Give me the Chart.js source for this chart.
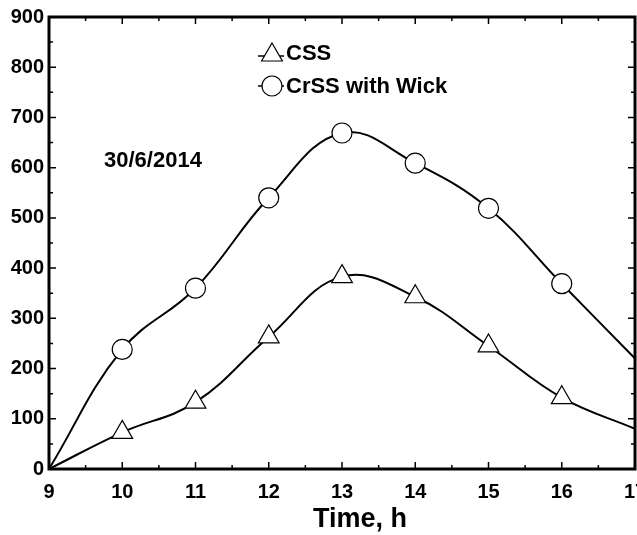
<!DOCTYPE html>
<html><head><meta charset="utf-8">
<script src="https://cdn.jsdelivr.net/npm/chart.js@4.4.1/dist/chart.umd.min.js"></script>
<style>html,body{margin:0;padding:0;background:#fff;} #wrap{width:637px;height:535px;}</style>
</head><body><div id="wrap"><canvas id="c" width="637" height="535"></canvas></div>
<script>
const hours = [9, 10, 11, 12, 13, 14, 15, 16, 17];
const cssValues = [0, 73, 133, 263, 383, 343, 245, 142, 80];
const crssValues = [0, 238, 360, 540, 669, 609, 519, 369, 220];
const seriesNames = ['CSS', 'CrSS with Wick'];
const dateLabel = '30/6/2014';
const xTitle = 'Time, h';
const xRange = [9, 17];
const yRange = [0, 900];

const FONT = "'Liberation Sans', Arial, sans-serif";

function pts(vals) { return hours.map((h, i) => ({ x: h, y: vals[i] })); }
function radii(vals, r) { return vals.map((v, i) => (i === 0 || i === vals.length - 1) ? 0 : r); }

const framePlugin = {
  id: 'frame',
  afterDraw(chart) {
    const ctx = chart.ctx, a = chart.chartArea;
    const xs = chart.scales.x, ys = chart.scales.y;
    ctx.save();
    ctx.strokeStyle = '#000';
    ctx.lineWidth = 1.5;
    ctx.beginPath();
    for (let v = xRange[0]; v <= xRange[1] + 1e-9; v += 0.5) {
      const px = xs.getPixelForValue(v);
      const len = Number.isInteger(v) ? 7 : 4;
      ctx.moveTo(px, a.bottom); ctx.lineTo(px, a.bottom - len);
      ctx.moveTo(px, a.top); ctx.lineTo(px, a.top + len);
    }
    for (let v = yRange[0]; v <= yRange[1] + 1e-9; v += 50) {
      const py = ys.getPixelForValue(v);
      const len = v % 100 === 0 ? 7 : 4;
      ctx.moveTo(a.left, py); ctx.lineTo(a.left + len, py);
      ctx.moveTo(a.right, py); ctx.lineTo(a.right - len, py);
    }
    ctx.stroke();
    ctx.lineWidth = 3;
    ctx.strokeRect(a.left, a.top, a.right - a.left, a.bottom - a.top);

    // legend
    ctx.lineWidth = 1.5;
    ctx.beginPath(); ctx.moveTo(258, 56); ctx.lineTo(284, 56); ctx.stroke();
    ctx.lineWidth = 1.2;
    const tr = 12, tcx = 272, tcy = 55;
    ctx.beginPath();
    ctx.moveTo(tcx, tcy - tr);
    ctx.lineTo(tcx + tr * Math.sqrt(3) / 2, tcy + tr / 2);
    ctx.lineTo(tcx - tr * Math.sqrt(3) / 2, tcy + tr / 2);
    ctx.closePath();
    ctx.fillStyle = '#fff'; ctx.fill(); ctx.stroke();

    ctx.lineWidth = 1.5;
    ctx.beginPath(); ctx.moveTo(258, 86); ctx.lineTo(284, 86); ctx.stroke();
    ctx.lineWidth = 1.2;
    ctx.beginPath(); ctx.arc(272, 86, 10, 0, Math.PI * 2);
    ctx.fillStyle = '#fff'; ctx.fill(); ctx.stroke();

    ctx.fillStyle = '#000';
    ctx.textBaseline = 'alphabetic';
    ctx.textAlign = 'left';
    ctx.font = "bold 22px " + FONT;
    ctx.fillText(seriesNames[0], 286, 60);
    ctx.fillText(seriesNames[1], 286, 93);
    ctx.fillText(dateLabel, 104, 167);

    ctx.textAlign = 'center';
    ctx.font = "bold 27px " + FONT;
    ctx.fillText(xTitle, 360, 527);
    ctx.restore();
  }
};

new Chart(document.getElementById('c'), {
  type: 'line',
  data: {
    datasets: [
      {
        label: seriesNames[0], data: pts(cssValues),
        borderColor: '#000', borderWidth: 2, backgroundColor: '#fff',
        pointStyle: 'triangle', pointRadius: radii(cssValues, 12),
        pointBorderWidth: 1.2, pointBorderColor: '#000', pointBackgroundColor: '#fff',
        tension: 0.4, fill: false
      },
      {
        label: seriesNames[1], data: pts(crssValues),
        borderColor: '#000', borderWidth: 2, backgroundColor: '#fff',
        pointStyle: 'circle', pointRadius: radii(crssValues, 10),
        pointBorderWidth: 1.2, pointBorderColor: '#000', pointBackgroundColor: '#fff',
        tension: 0.4, fill: false
      }
    ]
  },
  options: {
    responsive: false, animation: false, devicePixelRatio: 1, events: [],
    layout: { padding: { top: 17, right: 2, bottom: 0, left: 0 } },
    plugins: { legend: { display: false }, tooltip: { enabled: false }, title: { display: false } },
    scales: {
      x: {
        type: 'linear', min: xRange[0], max: xRange[1],
        grid: { display: false, drawTicks: false }, border: { display: false },
        ticks: { stepSize: 1, color: '#000', padding: 11, maxRotation: 0, autoSkip: false,
          font: { family: FONT, weight: 'bold', size: 20 } },
        afterFit(s) { s.height = 66; s.paddingLeft = 0; s.paddingRight = 0; }
      },
      y: {
        min: yRange[0], max: yRange[1],
        grid: { display: false, drawTicks: false }, border: { display: false },
        ticks: { stepSize: 100, color: '#000', padding: 5,
          font: { family: FONT, weight: 'bold', size: 20 } },
        afterFit(s) { s.width = 49; s.paddingTop = 0; s.paddingBottom = 0; }
      }
    }
  },
  plugins: [framePlugin]
});
</script></body></html>
